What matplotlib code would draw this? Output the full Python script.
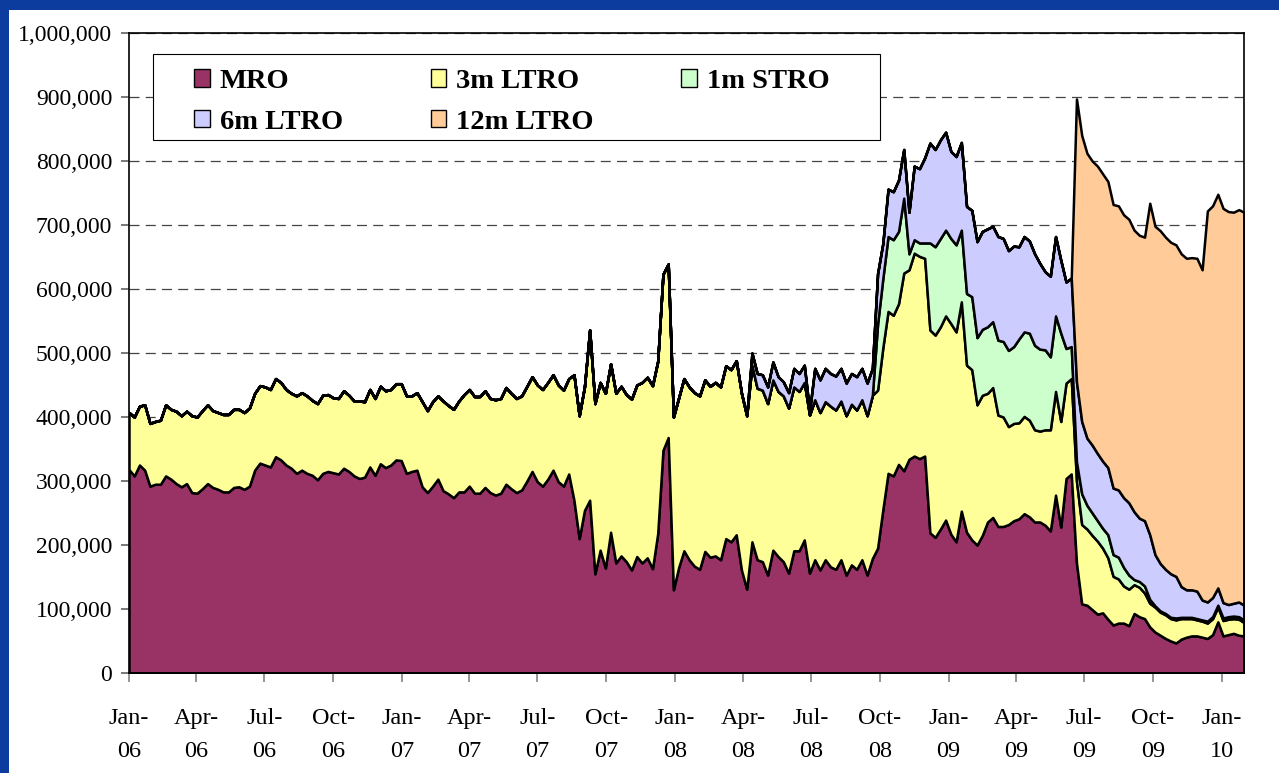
import matplotlib
matplotlib.use('Agg')
import matplotlib.pyplot as plt
from matplotlib.patches import Patch, Rectangle
from matplotlib.ticker import FuncFormatter, MultipleLocator
import numpy as np
import pandas as pd

# ---------------- data (EUR millions, stored in thousands) ----------------
start_date = '2006-01-01'
n_weeks = 214
unit = 1000

series_names = ['MRO', '3m LTRO', '1m STRO', '6m LTRO', '12m LTRO']
colors = ['#993366', '#FFFF99', '#CCFFCC', '#CCCCFF', '#FFCC99']

mro = [318, 308, 325, 317, 292, 295, 295, 308, 303, 296,
       291, 296, 282, 281, 288, 296, 290, 287, 283, 283,
       290, 291, 287, 292, 317, 328, 325, 322, 338, 333,
       325, 320, 312, 317, 312, 309, 302, 312, 315, 313,
       311, 320, 315, 308, 304, 306, 322, 309, 327, 321,
       325, 333, 332, 312, 315, 317, 291, 282, 292, 303,
       285, 280, 274, 283, 283, 292, 281, 281, 290, 282,
       278, 281, 295, 288, 282, 286, 300, 315, 299, 292,
       303, 317, 299, 292, 311, 270, 210, 254, 270, 155,
       192, 164, 220, 172, 183, 174, 161, 182, 172, 180,
       163, 218, 348, 368, 130, 165, 191, 177, 167, 162,
       190, 181, 183, 177, 210, 205, 216, 161, 131, 205,
       177, 174, 153, 192, 182, 174, 156, 191, 191, 208,
       156, 177, 161, 177, 166, 162, 177, 153, 169, 162,
       177, 153, 179, 195, 255, 312, 308, 326, 316, 334,
       339, 335, 339, 219, 212, 225, 239, 217, 205, 253,
       220, 208, 200, 215, 236, 243, 229, 229, 232, 238,
       241, 249, 244, 236, 236, 231, 222, 278, 228, 304,
       311, 172, 108, 106, 99, 92, 94, 84, 75, 78,
       78, 74, 93, 88, 85, 72, 64, 59, 54, 50,
       47, 53, 56, 58, 58, 56, 54, 60, 80, 58,
       60, 62, 59, 58]

ltro3m = [89, 92, 92, 102, 98, 98, 100, 111, 109, 113,
          111, 113, 120, 119, 122, 123, 120, 120, 121, 121,
          122, 121, 120, 122, 120, 121, 122, 121, 122, 121,
          118, 117, 121, 121, 121, 117, 119, 122, 120, 117,
          118, 121, 119, 117, 121, 118, 121, 120, 121, 120,
          118, 119, 120, 121, 118, 121, 133, 128, 132, 130,
          140, 138, 138, 142, 152, 151, 151, 151, 151, 147,
          149, 148, 151, 149, 147, 147, 148, 148, 151, 151,
          151, 149, 151, 150, 149, 196, 192, 193, 266, 266,
          262, 273, 263, 265, 265, 261, 267, 268, 282, 282,
          286, 269, 275, 271, 270, 265, 269, 270, 271, 271,
          268, 267, 271, 270, 270, 269, 272, 276, 271, 276,
          268, 268, 268, 266, 258, 259, 258, 256, 249, 246,
          247, 250, 246, 247, 251, 249, 248, 249, 251, 249,
          250, 249, 255, 247, 253, 253, 251, 251, 309, 296,
          317, 316, 309, 317, 316, 316, 319, 329, 328, 327,
          261, 266, 219, 219, 201, 203, 174, 171, 153, 152,
          150, 152, 151, 144, 142, 149, 158, 162, 165, 149,
          149, 128, 124, 119, 116, 114, 101, 96, 76, 69,
          58, 57, 45, 46, 40, 37, 39, 36, 37, 35,
          36, 32, 29, 27, 25, 25, 24, 25, 23, 24,
          24, 23, 25, 21]

stro1m = [0] * 143 + [
    103, 108, 117, 118, 113, 117, 25,
    21, 21, 24, 136, 138, 138, 134, 133, 136, 112,
    112, 114, 105, 103, 104, 103, 117, 118, 119, 120,
    131, 132, 136, 132, 128, 125, 114, 118, 138, 54,
    50, 30, 48, 37, 35, 32, 31, 36, 34, 34,
    29, 22, 8, 9, 11, 6, 2, 2, 2, 2,
    3, 2, 2, 2, 2, 2, 3, 3, 3, 4,
    4, 4, 4, 4]

ltro6m = [0] * 117 + [
    0, 0, 19,
    23, 24, 26, 28, 23, 22, 24, 29, 28, 27,
    6, 49, 51, 52, 51, 53, 51, 51, 48, 52,
    49, 51, 42, 79, 55, 74, 75, 80, 76, 65,
    115, 116, 133, 156, 152, 154, 153, 136, 138, 137,
    136, 135, 150, 153, 153, 149, 162, 161, 156, 157,
    144, 149, 144, 143, 134, 122, 126, 124, 114, 104,
    107, 125, 113, 105, 106, 105, 105, 105, 104, 105,
    109, 113, 106, 99, 102, 101, 80, 74, 69, 68,
    65, 48, 43, 43, 43, 31, 30, 30, 27, 24,
    19, 20, 23, 23]

ltro12m = [0] * 181 + [
    442, 447, 445, 444, 449, 449, 447, 443, 444,
    442, 443, 440, 442, 443, 518, 513, 520, 519, 518,
    518, 520, 518, 519, 520, 516, 611, 612, 615, 616,
    614, 611, 613, 614]

tick_dates = pd.date_range('2006-01-01', '2010-01-01', freq='QS')

# ---------------- figure ----------------
W, H = 1279, 773
fig = plt.figure(figsize=(W / 100, H / 100), dpi=100)
fig.patch.set_facecolor('#0c3c9e')
fig.add_artist(Rectangle((9 / W, 0), 1, (H - 10) / H, transform=fig.transFigure,
                         facecolor='white', edgecolor='none', zorder=-1))

ax = fig.add_axes([129 / W, 100 / H, (1244 - 129) / W, 640 / H])
ax.set_facecolor('white')

dates = pd.date_range(start_date, periods=n_weeks, freq='7D')
ys = [np.array(s, dtype=float) * unit for s in (mro, ltro3m, stro1m, ltro6m, ltro12m)]
polys = ax.stackplot(dates, *ys, colors=colors, edgecolor='black', linewidth=1.8,
                     labels=series_names)
for p in polys:
    p.set_joinstyle('round')

ax.set_ylim(0, 1_000_000)
ax.set_xlim(dates[0], dates[-1])
ax.yaxis.set_major_locator(MultipleLocator(100000))
ax.yaxis.set_major_formatter(FuncFormatter(lambda v, p: f'{int(round(v)):,}'))
ax.grid(axis='y', linestyle=(0, (8, 5)), color='#444444', linewidth=0.9)
ax.grid(axis='x', visible=False)
ax.set_axisbelow(True)

ax.set_xticks(tick_dates)
ax.set_xticklabels([d.strftime('%b-\n%y') for d in tick_dates])

serif = 'Liberation Serif'
ax.tick_params(axis='y', direction='out', length=6, width=1.1, color='#555555',
               pad=6, labelsize=17, labelfontfamily=serif)
ax.tick_params(axis='x', direction='out', length=6.5, width=1.1, color='#777777',
               pad=19, labelsize=17.5, labelfontfamily=serif)
for lbl in ax.get_xticklabels():
    lbl.set_linespacing(1.7)

for s in ax.spines.values():
    s.set_color('black')
    s.set_linewidth(1.2)
    s.set_zorder(3)

# legend box and legend
ax.add_patch(Rectangle((153 / W, 1 - 140 / H), 727 / W, 86 / H, transform=fig.transFigure,
                       facecolor='white', edgecolor='black', linewidth=0.8, zorder=4,
                       clip_on=False))
handles = [Patch(facecolor=c, edgecolor='black', linewidth=1.0) for c in colors]
order = [0, 3, 1, 4, 2]
leg = ax.legend([handles[i] for i in order], [series_names[i] for i in order],
                ncol=3, mode='expand', loc='upper left',
                bbox_to_anchor=(194 / W, 1 - 69 / H, (830 - 194) / W, 0.0),
                bbox_transform=fig.transFigure, frameon=False, borderpad=0,
                borderaxespad=0, handlelength=0.55, handleheight=0.55,
                handletextpad=0.36, labelspacing=0.55,
                prop={'family': serif, 'weight': 'bold', 'size': 20.5})
leg.set_zorder(5)

fig.savefig('out.png', dpi=100, facecolor=fig.get_facecolor())
